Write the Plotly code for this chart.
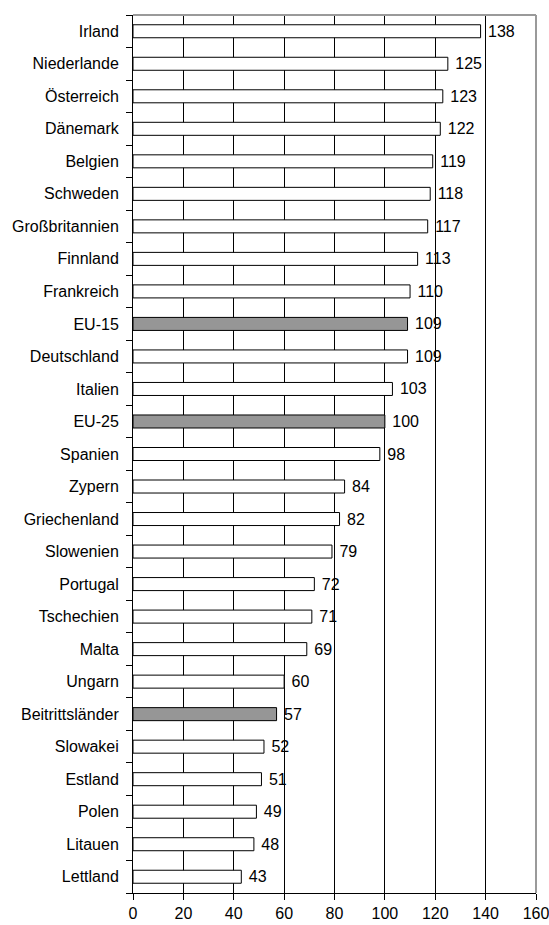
import plotly.graph_objects as go

countries = ["Irland", "Niederlande", "Österreich", "Dänemark", "Belgien", "Schweden",
             "Großbritannien", "Finnland", "Frankreich", "EU-15", "Deutschland", "Italien",
             "EU-25", "Spanien", "Zypern", "Griechenland", "Slowenien", "Portugal",
             "Tschechien", "Malta", "Ungarn", "Beitrittsländer", "Slowakei", "Estland",
             "Polen", "Litauen", "Lettland"]
values = [138, 125, 123, 122, 119, 118, 117, 113, 110, 109, 109, 103, 100, 98, 84, 82,
          79, 72, 71, 69, 60, 57, 52, 51, 49, 48, 43]
aggregates = ["EU-15", "EU-25", "Beitrittsländer"]
x_ticks = [0, 20, 40, 60, 80, 100, 120, 140, 160]

FONT = "Liberation Sans, Arial, Helvetica, sans-serif"
colors = ["#969696" if c in aggregates else "white" for c in countries]

fig = go.Figure()
fig.add_trace(go.Bar(
    y=countries, x=values, orientation="h",
    marker=dict(color=colors, line=dict(color="black", width=1)),
    text=["\u00a0" + str(v) for v in values],
    textposition="outside",
    textfont=dict(family=FONT, size=16, color="black"),
    constraintext="none",
    cliponaxis=False,
    hoverinfo="skip",
))

fig.update_layout(
    width=549, height=925,
    margin=dict(l=133, r=13, t=15, b=32, autoexpand=False),
    paper_bgcolor="white", plot_bgcolor="white",
    bargap=0.6,
    showlegend=False,
    font=dict(family=FONT, size=16, color="black"),
    xaxis=dict(
        range=[0, 160], tickvals=x_ticks, ticktext=[str(t) for t in x_ticks],
        showgrid=True, gridcolor="black", gridwidth=1,
        showline=True, linecolor="black", linewidth=1,
        ticks="outside", ticklen=6, tickcolor="black",
        zeroline=False, fixedrange=True, automargin=False,
        ticklabeloverflow="allow",
        tickfont=dict(family=FONT, size=16, color="black"),
    ),
    yaxis=dict(
        type="category", categoryorder="array", categoryarray=countries[::-1],
        autorange=False, range=[-0.5, len(countries) - 0.5],
        showgrid=False, showline=True, linecolor="black", linewidth=1,
        ticks="outside", ticklen=6, tickcolor="black", tickson="boundaries",
        ticklabelstandoff=10, automargin=False,
        tickfont=dict(family=FONT, size=16, color="black"),
        fixedrange=True,
    ),
)

# grey top and right frame
fig.add_shape(type="line", xref="x domain", yref="y domain", x0=0, x1=1, y0=1, y1=1,
              line=dict(color="#9a9a9a", width=2))
fig.add_shape(type="line", xref="x domain", yref="y domain", x0=1, x1=1, y0=0, y1=1,
              line=dict(color="#9a9a9a", width=2))

fig.write_html("out.html",
               config={"displayModeBar": False, "staticPlot": True},
               post_script="document.body.style.margin='0';document.body.style.overflow='hidden';")
